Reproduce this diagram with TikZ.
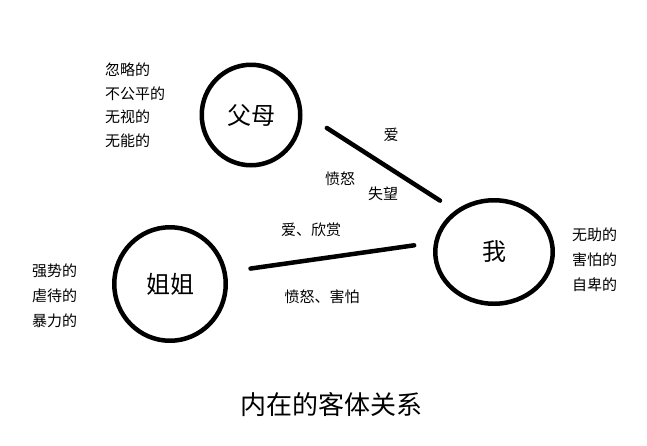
\documentclass[tikz,border=0pt]{standalone}
\usepackage{fontspec}
\setmainfont{Noto Sans CJK SC}
\usetikzlibrary{shapes.geometric}

\begin{document}
\begin{tikzpicture}[
	x=1pt, y=-1pt,
	every node/.style={inner sep=0pt, text centered, font=\fontsize{15}{18}\selectfont},
	person/.style={draw, ellipse, line width=4.5pt, font=\fontsize{24}{28}\selectfont},
	traits/.style={anchor=west, align=left, font=\fontsize{15}{25}\selectfont},
	edge/.style={draw, line width=4.5pt, line cap=round}
	]
	\useasboundingbox (0,0) rectangle (647,445);
	
	% Define nodes
	\node (parents) [person, minimum width=98.5pt, minimum height=100.5pt] at (251,115) {父母};
	\node (sister) [person, minimum width=111.5pt, minimum height=113.5pt] at (170,284) {姐姐};
	\node (me) [person, minimum width=117.5pt, minimum height=103.5pt] at (494,252) {我};
	\node (parentTraits) [traits, font=\fontsize{15}{23.5}\selectfont] at (105,105.5) {忽略的\\不公平的\\无视的\\无能的};
	\node (sisterTraits) [traits] at (32,296) {强势的\\虐待的\\暴力的};
	\node (meTraits) [traits] at (572,260) {无助的\\害怕的\\自卑的};
	\node (love) at (391,135) {爱};
	\node (anger) at (340,179) {愤怒};
	\node (disappointment) at (383,194) {失望};
	\node (loveAdmire) at (311,230) {爱、欣赏};
	\node (angerFear) at (322,297) {愤怒、害怕};
	\node (title) [font=\fontsize{26}{30}\selectfont] at (331,405) {内在的客体关系};
	
	% Draw edges
	\path [edge, shorten <=29pt, shorten >=18pt] (parents.3) -- (me.133.7);
	\path [edge, shorten <=24pt, shorten >=20pt] (sister.12.7) -- (me.171.9);
	
\end{tikzpicture}
\end{document}
